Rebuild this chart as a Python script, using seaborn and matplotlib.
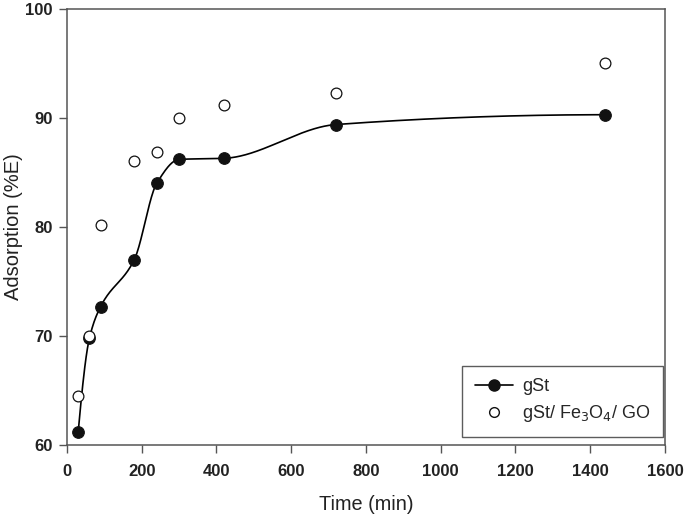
import numpy as np
import pandas as pd
import matplotlib
matplotlib.use("Agg")
import matplotlib.pyplot as plt
from matplotlib.lines import Line2D
import seaborn as sns

time_min = [30, 60, 90, 180, 240, 300, 420, 720, 1440]
gst = [61.2, 69.8, 72.7, 77.0, 84.0, 86.2, 86.3, 89.4, 90.3]
gst_fe3o4_go = [64.5, 70.0, 80.2, 86.1, 86.9, 90.0, 91.2, 92.3, 95.0]


def pchip_curve(x, y, n=800):
    # shape-preserving cubic through the points, only used to draw the smooth line
    x = np.asarray(x, float)
    y = np.asarray(y, float)
    h = np.diff(x)
    delta = np.diff(y) / h
    d = np.zeros_like(y)
    for k in range(1, len(x) - 1):
        if delta[k - 1] * delta[k] > 0:
            w1 = 2 * h[k] + h[k - 1]
            w2 = h[k] + 2 * h[k - 1]
            d[k] = (w1 + w2) / (w1 / delta[k - 1] + w2 / delta[k])

    def end_slope(h0, h1, d0, d1):
        s = ((2 * h0 + h1) * d0 - h0 * d1) / (h0 + h1)
        if np.sign(s) != np.sign(d0):
            s = 0.0
        elif np.sign(d0) != np.sign(d1) and abs(s) > abs(3 * d0):
            s = 3 * d0
        return s

    d[0] = end_slope(h[0], h[1], delta[0], delta[1])
    d[-1] = end_slope(h[-1], h[-2], delta[-1], delta[-2])

    xs = np.linspace(x[0], x[-1], n)
    idx = np.clip(np.searchsorted(x, xs) - 1, 0, len(x) - 2)
    t = (xs - x[idx]) / h[idx]
    h00 = 2 * t**3 - 3 * t**2 + 1
    h10 = t**3 - 2 * t**2 + t
    h01 = -2 * t**3 + 3 * t**2
    h11 = t**3 - t**2
    ys = (h00 * y[idx] + h10 * h[idx] * d[idx]
          + h01 * y[idx + 1] + h11 * h[idx] * d[idx + 1])
    return xs, ys


sns.set_style("ticks")
plt.rcParams["font.family"] = ["Liberation Sans", "DejaVu Sans"]

df = pd.DataFrame({"Time": time_min, "gSt": gst, "gSt_GO": gst_fe3o4_go})
xs, ys = pchip_curve(time_min, gst)

fig = plt.figure(figsize=(6.85, 5.17), dpi=100)
ax = fig.add_axes([0.0978, 0.1393, 0.873, 0.8433])

ax.plot(xs, ys, color="black", lw=1.2)
sns.scatterplot(data=df, x="Time", y="gSt", color="#111111", s=70,
                edgecolor="#111111", linewidth=0.8, ax=ax, zorder=3)
sns.scatterplot(data=df, x="Time", y="gSt_GO", facecolor="white", s=60,
                edgecolor="#111111", linewidth=0.9, ax=ax, zorder=3)

ax.set_xlim(0, 1600)
ax.set_ylim(60, 100)
ax.set_xticks(np.arange(0, 1601, 200))
ax.set_yticks(np.arange(60, 101, 10))
ax.tick_params(direction="out", length=6, width=1, color="#555555", labelsize=12)
ax.tick_params(axis="x", pad=8)
ax.tick_params(axis="y", pad=4.5)
for lab in ax.get_xticklabels() + ax.get_yticklabels():
    lab.set_fontweight("bold")
    lab.set_color("#222222")
for sp in ax.spines.values():
    sp.set_visible(True)
    sp.set_color("#555555")
    sp.set_linewidth(1.1)
ax.xaxis.set_ticks_position("bottom")
ax.yaxis.set_ticks_position("left")

ax.set_xlabel("Time (min)", fontsize=14.3, color="#222222", labelpad=11)
ax.set_ylabel("Adsorption (%E)", fontsize=14.5, color="#222222")
ax.yaxis.set_label_coords(-0.073, 0.5)

handles = [
    Line2D([0], [0], color="black", lw=1.2, marker="o", markersize=8,
           markerfacecolor="#111111", markeredgecolor="#111111"),
    Line2D([0], [0], color="none", marker="o", markersize=7,
           markerfacecolor="white", markeredgecolor="#111111"),
]
labels = ["gSt", "gSt/ Fe$_3$O$_4$/ GO"]
leg = ax.legend(handles, labels, loc="lower right", bbox_to_anchor=(0.9967, 0.018),
                fontsize=13, frameon=True, fancybox=False, borderpad=0.7,
                handlelength=2.1, handletextpad=0.5, labelspacing=0.45,
                borderaxespad=0)
leg.get_frame().set_edgecolor("#333333")
leg.get_frame().set_linewidth(1.0)

fig.savefig("out.png", dpi=100)
